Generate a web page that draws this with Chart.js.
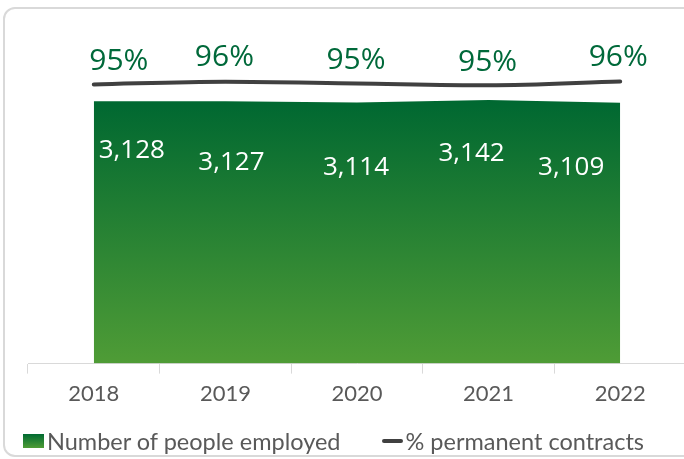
<!DOCTYPE html>
<html>
<head>
<meta charset="utf-8">
<script src="https://cdn.jsdelivr.net/npm/chart.js@4"></script>
<style>
  html, body { margin: 0; padding: 0; background: #fff; overflow: hidden; width: 684px; height: 459px; }
  .frame { position: absolute; left: 3px; top: 7px; width: 700px; height: 446px; border: 2px solid #d9d9d9; border-radius: 12px; }
  #chart { position: absolute; left: 0; top: 0; }
  .legend { position: absolute; left: 23px; top: 427px; font-family: Lato, sans-serif; font-size: 23.5px; color: #595959; display: flex; align-items: center; white-space: nowrap; }
  .legend .item { display: flex; align-items: center; }
  .legend .box { width: 21px; height: 14px; margin-right: 3px; background: linear-gradient(#006a32, #4e9c35); }
  .legend .line { width: 21px; height: 4px; border-radius: 2px; background: #404040; margin-right: 3px; }
</style>
</head>
<body>
<div class="frame"></div>
<canvas id="chart" width="700" height="459"></canvas>
<div class="legend" id="legend"></div>
<script>
// values
const years = ["2018", "2019", "2020", "2021", "2022"];
const employed = [3128, 3127, 3114, 3142, 3109];
const permanent = [0.951, 0.960, 0.954, 0.948, 0.961];
const seriesNames = ["Number of people employed", "% permanent contracts"];

// hand-tuned label nudges, like the placed labels in the original
const employedLabelShift = [[38, 49], [6, 61], [-1, 65], [-17, 54], [-49, 65]];
const permanentLabelShift = [[25, -23], [-1, -24], [-1, -23], [-1, -23], [-2, -24]];

const fontMain = "'Open Sans', sans-serif";

const labelPlugin = {
  id: 'pointLabels',
  afterDatasetsDraw(chart) {
    const ctx = chart.ctx;
    ctx.save();
    ctx.textAlign = 'center';
    ctx.textBaseline = 'middle';

    const area = chart.getDatasetMeta(0);
    ctx.fillStyle = '#ffffff';
    ctx.font = '400 26px ' + fontMain;
    area.data.forEach((pt, i) => {
      const txt = employed[i].toLocaleString('en-US');
      ctx.fillText(txt, pt.x + employedLabelShift[i][0], pt.y + employedLabelShift[i][1]);
    });

    const line = chart.getDatasetMeta(1);
    ctx.fillStyle = '#00693a';
    ctx.font = '400 30px ' + fontMain;
    line.data.forEach((pt, i) => {
      const txt = Math.round(permanent[i] * 100) + '%';
      ctx.fillText(txt, pt.x + permanentLabelShift[i][0], pt.y + permanentLabelShift[i][1]);
    });
    ctx.restore();
  }
};

const ctx = document.getElementById('chart').getContext('2d');

function areaGradient(context) {
  const ca = context.chart.chartArea;
  if (!ca) return '#2e8434';
  const y0 = context.chart.scales.y.getPixelForValue(3128);
  const g = context.chart.ctx.createLinearGradient(0, y0, 0, ca.bottom);
  g.addColorStop(0, '#006831');
  g.addColorStop(1, '#4f9c36');
  return g;
}

const chart = new Chart(ctx, {
  type: 'line',
  data: {
    labels: years,
    datasets: [{
      label: seriesNames[0],
      data: employed,
      yAxisID: 'y',
      fill: 'origin',
      backgroundColor: areaGradient,
      borderWidth: 0,
      pointRadius: 0,
      tension: 0,
      order: 2
    }, {
      label: seriesNames[1],
      data: permanent,
      yAxisID: 'y1',
      fill: false,
      borderColor: '#404040',
      borderWidth: 4,
      borderCapStyle: 'round',
      pointRadius: 0,
      cubicInterpolationMode: 'monotone',
      order: 1
    }]
  },
  options: {
    responsive: false,
    animation: false,
    layout: { padding: { left: 28, right: 14, top: 70, bottom: 45 } },
    plugins: {
      legend: { display: false },
      tooltip: { enabled: false }
    },
    scales: {
      x: {
        offset: true,
        grid: {
          offset: true,
          drawOnChartArea: false,
          drawTicks: true,
          tickLength: 10,
          color: '#d9d9d9'
        },
        border: { color: '#d9d9d9', width: 1 },
        ticks: {
          color: '#595959',
          padding: 7,
          font: { family: 'Lato, sans-serif', size: 22 }
        }
      },
      y: { display: false, min: 0, max: 3500 },
      y1: { display: false, min: 0, max: 1 }
    }
  },
  plugins: [labelPlugin]
});

// legend built from the series names
const legend = document.getElementById('legend');
legend.innerHTML =
  '<div class="item"><span class="box"></span>' + seriesNames[0] + '</div>' +
  '<div class="item" style="margin-left:41px"><span class="line"></span>' + seriesNames[1] + '</div>';
</script>
</body>
</html>
